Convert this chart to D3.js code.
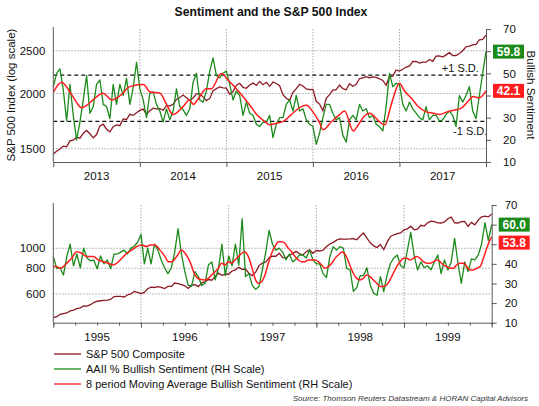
<!DOCTYPE html>
<html><head><meta charset="utf-8">
<script src="https://cdn.jsdelivr.net/npm/d3@7"></script>
<style>
body{margin:0;background:#fff}
svg text{font-family:"Liberation Sans",Arial,sans-serif}
</style>
</head><body>
<svg id="c" width="539" height="406"></svg>
<script>
// ---------------- DATA ----------------
const title = "Sentiment and the S&P 500 Index";
const topYears = [2013, 2014, 2015, 2016, 2017];
const botYears = [1995, 1996, 1997, 1998, 1999];
const topLeftTicks = [1500, 2000, 2500];
const botLeftTicks = [600, 800, 1000];
const rightTicks = [10, 20, 30, 40, 50, 60, 70];
const sdLevels = [49.2, 28.3];
const sdLabels = ["+1 S.D.", "-1 S.D."];

// biweekly S&P 500, Jan 2013 - Jan 2018
const spTop = [1459,1481,1498,1521,1515,1563,1569,1593,1585,1627,1650,1622,1588,1615,1689,1706,1661,1638,1683,1698,1692,1752,1747,1795,1785,1810,
1832,1845,1794,1830,1854,1846,1849,1833,1878,1875,1892,1940,1959,1985,1958,1930,1955,1997,1997,1966,1928,1950,2031,2052,2071,2061,
2058,1992,2021,2088,2110,2065,2056,2091,2112,2088,2131,2095,2121,2077,2124,2108,2083,1988,1952,1932,2013,2052,2099,2081,2049,2041,
2044,1921,1893,1829,1951,1989,2036,2041,2091,2051,2040,2105,2077,2098,2163,2170,2185,2172,2181,2177,2160,2141,2088,2187,2191,2262,
2249,2270,2296,2307,2364,2364,2345,2357,2355,2389,2366,2431,2433,2419,2447,2475,2438,2439,2465,2500,2553,2562,2579,2585,2647,2652,2713];

// biweekly AAII % bullish, Jan 2013 - Jan 2018
const bullTop = [43.9,50,52,42.5,28.6,45,31,20,28,38,49,32,35,45,47,36,35,29.6,45,36,45,40,47.7,36,43.5,55,
43,38,30,41,41.6,36,33,28,34,29,33,43,35,33.5,31,34,46,50,38,37,42,51,57,49,48,50,
51,45,38,42,40,31,37,32,31,27,26,28,28,31,21,27,30,30,36,38,33,40,33,34,29,27,
26,18,23,30,36,36,32,29,30,22,19,29,31,29,36,33,34,30,31,27,26,24,35,50,44,45.5,
45,36,33,37,34,32,30,29,35,29,31,31,28.5,29,31.5,33,31,26,40,37,40,44,33,29.5,40,50,59.8];

// 8 period moving average [months from Jan 2013, value]
const maTop = [[0,41.5],[1.16,46],[2.3,41.6],[3.2,37],[3.9,34.5],[4.6,35.5],[5.5,38],[6.9,41],[8.1,38],[9.3,40],[10.6,44],[12.5,45],[13.4,41.6],[14.8,41],[15.7,36],[16.6,31.4],[18,35],[18.9,38],[19.4,36],[20.3,39.5],
[21.2,43],[21.9,43],[23.3,49.9],[24.25,46.9],[25.6,42.3],[27.25,35.6],[28.2,31.4],[29.3,28.3],[30,26.8],[30.95,27.5],[31.9,28.3],[33,31.4],[34.4,35],[35.1,35.6],[36,32.6],[36.95,27.5],[37.4,24.5],[38.6,28.3],[39.7,31.4],
[40.4,33],[41.6,24],[42.3,26.8],[43.2,31],[43.9,32],[44.8,29.6],[45.5,27.5],[46,26.8],[46.7,34],[47.4,41.6],[48,45.5],[48.7,42],[49.7,38.6],[50.6,35],[51.7,32.6],[52.7,32],[53.6,31.4],[54.5,32.5],[55.7,33.5],[56.6,34.3],[57.5,37.3],[58.2,39.5],[59.1,39],[60,42.1]];

// biweekly S&P 500, Jan 1995 - Dec 1999
const spBot = [460,465,478,482,485,496,501,509,514,525,524,532,545,553,556,558,560,564,583,584,584,580,593,600,617,611,
602,611,636,648,645,651,645,637,653,653,678,673,666,657,638,662,665,651,680,687,705,700,730,757,739,748,
748,776,786,808,790,793,757,737,766,824,847,858,898,916,915,947,900,899,923,945,966,941,927,963,983,946,
975,970,980,1020,1049,1068,1095,1110,1107,1109,1110,1115,1100,1147,1186,1120,1063,1027,1009,1044,984,1071,1141,1163,1177,1188,
1229,1243,1280,1230,1238,1294,1283,1329,1356,1346,1330,1327,1342,1392,1418,1329,1327,1348,1351,1277,1336,1301,1370,1422,1433,1421,1469];

// biweekly AAII % bullish, Jan 1995 - Dec 1999
const bullBot = [43.7,37.7,38,34.3,43.7,50,39,45,38,48,43,41.5,42,37.5,44,40,42,37.5,45,45,46,47,45,48,49,51,
55,40,48,40,50,47,42,38,35,38,46,58,45,36,29,28.5,36,33.5,29,30,39.4,41,31.8,38,50,34,
44,39,50,39.4,63,33.5,35,29,27,28.5,37,46,57,50,47,48,46,42,45,41,42.5,44.5,44.5,43,47,42,
40,40,35,33,43.7,48.8,47,48.8,48,37.7,37,26,28,34,34,38,29,25,24,33.5,25.8,34.5,40.3,43,44.5,39,
38,47,56,44.5,36.9,41,38,39,37,41,44.5,35,42,36.9,41,53,40.3,30.1,41,36,42.5,42,44.5,50,61,52,60];

const maBot = [[0,38.6],[0.46,38.6],[0.92,37.7],[1.37,38.6],[1.83,40.3],[2.51,42.8],[3.2,46.2],[3.88,45.4],[4.57,43.7],[5.48,43.7],[6.16,42],[6.85,41.1],[7.53,40.3],[8.22,39.4],[8.67,40.3],[9.36,42.8],[10.04,45.4],[10.73,47],[11.41,48.8],[12.09,49.6],[12.78,48.8],[13.23,49.6],[13.92,49.6],[14.6,47],[15.29,43.7],[15.74,41.1],[16.2,41.1],[16.88,43.7],[17.57,47],[18.03,45.4],[18.71,41.1],[19.39,34.3],[20.08,32.1],
[20.76,31.8],[21.22,32.6],[21.67,34.3],[22.13,36],[22.58,37.7],[23.04,40.3],[23.5,39.4],[23.95,41.1],[24.41,40.3],[24.86,42],[25.32,43.7],[25.78,45.4],[26.23,46.2],[26.69,43.7],[27.15,38.6],[27.6,32.6],[28.06,30.1],[28.51,30.9],[28.97,34.3],[29.43,40.3],[29.88,45.4],[30.34,48.8],[30.8,51.3],[31.25,51.3],[31.71,50.5],[32.17,47.9],[32.62,46.2],[33.08,43.7],[33.53,42],[33.99,41.1],[34.45,41.1],[34.9,42],[35.36,42],[35.81,42],[36.27,41.1],[36.73,39.4],[37.18,37.7],[37.64,38.6],[38.1,40.3],[38.55,42.8],[39.01,44.5],
[39.46,46],[39.92,45],[40.3,42],[40.61,39],[41.06,35.2],[41.52,32.6],[41.98,31.8],[42.43,32.6],[42.89,34.3],[43.35,33.5],[43.8,31.8],[44.26,30.1],[44.71,28.4],[45.17,28.4],[45.63,29.2],[46.08,31.8],[46.54,35.2],[47,38.6],[47.45,41.1],[47.91,42.8],[48.36,42.8],[48.82,42],[49.28,42.8],[49.73,43.7],[50.19,42.8],[50.65,41.1],[51.1,40.3],[51.56,40.3],[52.03,41.1],[52.48,42],[52.93,41.1],[53.39,39.4],[53.85,38.6],[54.3,37.7],[54.76,37.7],[55.2,39.4],[55.67,40.3],[56.12,40.3],[56.58,38.6],[57.04,36.9],[57.5,36.9],[57.95,37.7],[58.41,38.6],[58.86,42.8],[59.32,47.9],[59.77,52.2],[60,53.8]];

const legendItems = ["S&P 500 Composite", "AAII % Bullish Sentiment (RH Scale)", "8 period Moving Average Bullish Sentiment (RH Scale)"];
const sourceText = "Source: Thomson Reuters Datastream & HORAN Capital Advisors";

// ---------------- STYLE ----------------
const C = {sp:"#8b1a22", bull:"#1b8a1b", ma:"#ff1c1c", axis:"#5a5a5a", grid:"#a8a8a8", text:"#111"};

const svg = d3.select("#c");

svg.append("text").attr("x", 271).attr("y", 16).attr("text-anchor","middle")
  .attr("font-size", 12.2).attr("font-weight","bold").attr("fill", C.text).text(title);

function panel(o){
  const g = svg.append("g");
  const y0 = o.years[0];
  const x = d3.scaleLinear().domain([y0, y0 + o.years.length]).range([o.left, o.right]);
  const yL = d3.scaleLog().domain(o.leftDomain).range([o.bottom, o.top]);
  const yR = d3.scaleLinear().domain([10, 70]).range([o.bottom, o.top]);
  const n = o.bull.length;
  const tk = i => y0 + i * o.years.length / (n - 1);

  // gridlines
  g.selectAll(".hg").data(o.leftTicks).join("line")
    .attr("x1", o.left).attr("x2", o.right).attr("y1", d => yL(d)).attr("y2", d => yL(d))
    .attr("stroke", C.grid).attr("stroke-dasharray","1.5,1.5");
  g.selectAll(".vg").data(o.years.slice(1)).join("line")
    .attr("x1", d => x(d)).attr("x2", d => x(d)).attr("y1", o.top).attr("y2", o.bottom)
    .attr("stroke", C.grid).attr("stroke-dasharray","1.5,1.5");

  // SD lines
  if (o.sd) {
    g.selectAll(".sd").data(o.sd).join("line")
      .attr("x1", o.left).attr("x2", o.right).attr("y1", d => yR(d)).attr("y2", d => yR(d))
      .attr("stroke", "#111").attr("stroke-width", 1.2).attr("stroke-dasharray","4,3");
    g.append("text").attr("x", x(y0 + 4.49)).attr("y", yR(o.sd[0]) - 3.5).attr("font-size", 11).attr("fill", C.text).text(sdLabels[0]);
    g.append("text").attr("x", x(y0 + 4.62)).attr("y", yR(o.sd[1]) + 14).attr("font-size", 11).attr("fill", C.text).text(sdLabels[1]);
  }

  // lines
  const lineSp = d3.line().x((d,i) => x(tk(i))).y(d => yL(d));
  const lineB = d3.line().x((d,i) => x(tk(i))).y(d => yR(d));
  const lineM = d3.line().x(d => x(y0 + d[0] / 12)).y(d => yR(d[1])).curve(d3.curveMonotoneX);
  g.append("path").datum(o.sp).attr("d", lineSp).attr("fill","none").attr("stroke", C.sp).attr("stroke-width", 1.3);
  g.append("path").datum(o.bull).attr("d", lineB).attr("fill","none").attr("stroke", C.bull).attr("stroke-width", 1.3).attr("stroke-linejoin","round");
  g.append("path").datum(o.ma).attr("d", lineM).attr("fill","none").attr("stroke", C.ma).attr("stroke-width", 1.5);

  // x axis
  g.append("g").attr("transform", `translate(0,${o.bottom})`)
    .call(d3.axisBottom(x).tickValues(o.years.concat([y0 + o.years.length])).tickFormat("").tickSize(5).tickSizeOuter(0));
  if (o.minor) {
    const q = d3.range(0, o.years.length * 4 + 1).map(i => y0 + i / 4);
    g.append("g").attr("transform", `translate(0,${o.bottom})`)
      .call(d3.axisBottom(x).tickValues(q).tickFormat("").tickSize(3).tickSizeOuter(0))
      .call(s => s.select(".domain").remove());
  }
  g.selectAll(".yl").data(o.years).join("text")
    .attr("x", d => x(d + 0.5)).attr("y", o.bottom + 18).attr("text-anchor","middle")
    .attr("font-size", 11.5).attr("fill", C.text).text(d => d);

  // left axis
  g.append("g").attr("transform", `translate(${o.left},0)`)
    .call(d3.axisLeft(yL).tickValues(o.leftTicks).tickFormat(d3.format("d")).tickSize(0).tickPadding(8))
    .call(s => s.select(".domain").attr("d", `M0,${o.top - 2}V${o.bottom}`))
    .call(s => s.selectAll("text").attr("font-size", 11.5).attr("fill", C.text));

  // value boxes (positions from the scale; red pushed below green if they collide)
  const lastB = o.bull[o.bull.length - 1];
  const lastM = o.ma[o.ma.length - 1][1];
  const bh = 14, bw = 31;
  const yb = yR(lastB);
  let ym = yR(lastM);
  if (ym - yb < bh + 4) ym = yb + bh + 4;
  const boxes = [[yb, lastB, C.bull], [ym, lastM, C.ma]];

  // right axis: labels hidden behind value boxes are not drawn (as in the original)
  const visibleTicks = rightTicks.filter(t => boxes.every(b => Math.abs(yR(t) - b[0]) > bh / 2 + 4));
  const ra = g.append("g").attr("transform", `translate(${o.right},0)`)
    .call(d3.axisRight(yR).tickValues(rightTicks).tickSize(5).tickPadding(o.rpad).tickSizeOuter(0)
      .tickFormat(t => visibleTicks.includes(t) ? t : ""))
    .call(s => s.selectAll("text").attr("font-size", 11.5).attr("fill", C.text));

  boxes.forEach(([yy, v, col]) => {
    g.append("rect").attr("x", o.right + 7).attr("y", yy - bh / 2).attr("width", bw).attr("height", bh).attr("fill", col);
    g.append("text").attr("x", o.right + 7 + bw / 2).attr("y", yy + 4.5).attr("text-anchor","middle")
      .attr("font-size", 12).attr("font-weight","bold").attr("fill","#fff").text(d3.format(".1f")(v));
  });
  svg.selectAll("g .domain, g .tick line").attr("stroke", C.axis);
}

panel({years: topYears, left: 53.3, right: 486, top: 29, bottom: 162, leftDomain: [1400, 2800],
  leftTicks: topLeftTicks, sp: spTop, bull: bullTop, ma: maTop, sd: sdLevels, minor: false, rpad: 12});
panel({years: botYears, left: 53.3, right: 491.7, top: 205, bottom: 322.7, leftDomain: [435, 1623],
  leftTicks: botLeftTicks, sp: spBot, bull: bullBot, ma: maBot, sd: null, minor: true, rpad: 8});

// axis titles
svg.append("text").attr("transform","translate(15,95) rotate(-90)").attr("text-anchor","middle")
  .attr("font-size", 11.5).attr("fill", C.text).text("S&P 500 Index (log scale)");
svg.append("text").attr("transform","translate(527,95) rotate(90)").attr("text-anchor","middle")
  .attr("font-size", 11.5).attr("fill", C.text).text("Bullish Sentiment");

// legend
const legCols = [C.sp, C.bull, C.ma];
const lg = svg.append("g");
legendItems.forEach((t, i) => {
  const yy = 354 + i * 15;
  lg.append("line").attr("x1", 54).attr("x2", 81).attr("y1", yy).attr("y2", yy)
    .attr("stroke", legCols[i]).attr("stroke-width", 2).attr("opacity", 0.65);
  lg.append("text").attr("x", 86).attr("y", yy + 4).attr("font-size", 11).attr("fill", C.text).text(t);
});
svg.append("text").attr("x", 528).attr("y", 401).attr("text-anchor","end").attr("font-size", 8)
  .attr("font-style","italic").attr("fill", "#333").text(sourceText);
</script>
</body></html>
